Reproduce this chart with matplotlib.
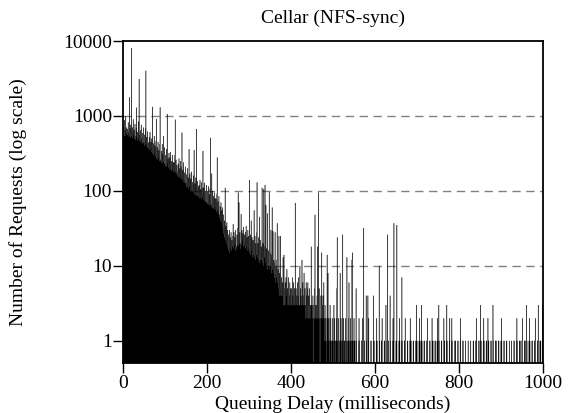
import numpy as np
import matplotlib
matplotlib.use("Agg")
from matplotlib import pyplot as plt

plt.rcParams["font.family"] = ["Liberation Serif", "DejaVu Serif"]

# requests per 1 ms bin of queuing delay
counts_0_249 = [
    560, 720, 600, 880, 540, 650, 990, 580, 700, 620,
    670, 560, 820, 600, 530, 1770, 690, 520, 760, 580,
    8000, 540, 700, 510, 900, 560, 650, 500, 780, 540,
    480, 690, 1290, 520, 610, 470, 840, 500, 3100, 560,
    470, 640, 450, 760, 500, 430, 590, 460, 700, 440,
    400, 560, 420, 690, 4000, 410, 520, 380, 620, 400,
    440, 370, 520, 350, 610, 360, 450, 330, 500, 340,
    1320, 310, 430, 300, 540, 320, 400, 290, 460, 910,
    270, 380, 260, 450, 280, 350, 250, 420, 1300, 260,
    250, 340, 240, 420, 235, 310, 540, 245, 380, 230,
    215, 300, 220, 360, 210, 1060, 230, 270, 205, 320,
    195, 280, 200, 330, 190, 250, 185, 300, 200, 240,
    178, 240, 185, 300, 890, 175, 260, 170, 220, 180,
    160, 230, 155, 270, 150, 200, 160, 250, 145, 210,
    600, 140, 190, 135, 240, 130, 175, 140, 210, 128,
    118, 165, 112, 200, 120, 150, 108, 360, 115, 170,
    100, 145, 104, 180, 98, 130, 102, 160, 96, 350,
    90, 125, 88, 150, 92, 670, 86, 135, 90, 115,
    84, 120, 80, 140, 82, 105, 78, 130, 84, 110,
    340, 76, 110, 74, 128, 72, 100, 76, 120, 70,
    70, 98, 66, 115, 68, 90, 64, 108, 510, 66,
    62, 170, 60, 100, 64, 85, 58, 95, 62, 80,
    56, 78, 52, 90, 280, 55, 72, 50, 85, 48,
    44, 62, 40, 70, 38, 55, 34, 60, 31, 48,
    27, 40, 24, 110, 22, 34, 20, 38, 18, 30,
]
counts_250_499 = [
    17, 26, 16, 30, 15, 24, 17, 28, 16, 22,
    18, 25, 36, 17, 28, 19, 24, 16, 30, 18,
    17, 26, 19, 32, 95, 18, 70, 20, 28, 17,
    20, 49, 19, 30, 21, 27, 18, 33, 20, 26,
    19, 28, 17, 34, 18, 24, 16, 30, 17, 25,
    16, 140, 15, 26, 14, 40, 16, 24, 13, 22,
    14, 22, 55, 13, 25, 12, 20, 14, 28, 130,
    13, 20, 12, 24, 11, 45, 14, 22, 12, 18,
    12, 110, 11, 20, 10, 106, 13, 18, 120, 11,
    65, 10, 17, 9, 50, 11, 16, 10, 96, 9,
    10, 15, 30, 8, 14, 60, 9, 29, 8, 12,
    7, 11, 28, 6, 10, 7, 12, 37, 6, 9,
    5, 25, 4, 8, 5, 25, 4, 7, 4, 6,
    4, 13, 3, 14, 5, 3, 6, 3, 7, 4,
    9, 3, 5, 3, 7, 4, 3, 6, 3, 5,
    3, 5, 3, 7, 4, 3, 6, 3, 5, 3,
    69, 3, 5, 4, 3, 6, 3, 4, 7, 3,
    3, 10, 4, 5, 3, 4, 12, 3, 6, 3,
    4, 8, 3, 5, 2, 3, 6, 4, 2, 5,
    6, 2, 4, 3, 5, 2, 3, 2, 18, 3,
    3, 2, 4, 3, 0, 2, 5, 48, 2, 3,
    3, 2, 4, 18, 2, 95, 2, 5, 2, 0,
    2, 4, 2, 15, 3, 2, 4, 2, 6, 2,
    1, 3, 1, 2, 0, 1, 14, 2, 8, 1,
    2, 1, 0, 3, 2, 1, 1, 0, 2, 1,
]
counts_500_749 = [
    1, 0, 3, 1, 2, 0, 1, 1, 2, 5,
    24, 1, 0, 2, 1, 1, 0, 8, 1, 2,
    1, 0, 1, 26, 1, 2, 0, 1, 1, 0,
    2, 1, 0, 13, 1, 0, 1, 2, 6, 1,
    0, 1, 2, 1, 0, 12, 15, 1, 0, 1,
    2, 1, 1, 0, 0, 5, 1, 0, 0, 0,
    0, 1, 2, 1, 0, 0, 0, 0, 1, 1,
    2, 0, 0, 32, 1, 1, 0, 0, 0, 4,
    1, 0, 0, 4, 1, 2, 0, 0, 0, 0,
    1, 1, 0, 0, 0, 0, 4, 1, 1, 0,
    0, 0, 0, 1, 2, 1, 0, 0, 0, 0,
    10, 1, 0, 0, 0, 1, 1, 2, 0, 0,
    0, 0, 1, 1, 0, 0, 3, 1, 0, 0,
    26, 1, 1, 0, 0, 0, 4, 1, 0, 0,
    0, 0, 1, 2, 1, 37, 0, 0, 0, 0,
    1, 1, 35, 0, 0, 0, 0, 1, 2, 1,
    0, 0, 0, 1, 7, 1, 0, 0, 0, 0,
    1, 1, 2, 0, 0, 0, 0, 1, 1, 0,
    0, 0, 0, 1, 2, 1, 1, 0, 0, 0,
    0, 1, 1, 0, 0, 0, 0, 1, 1, 3,
    1, 0, 0, 0, 0, 1, 2, 1, 0, 0,
    1, 3, 1, 0, 0, 0, 0, 1, 1, 0,
    0, 0, 0, 1, 1, 2, 0, 0, 0, 0,
    1, 1, 0, 0, 0, 0, 2, 1, 1, 0,
    0, 0, 0, 1, 1, 0, 0, 0, 1, 2,
]
counts_750_999 = [
    1, 0, 3, 1, 0, 0, 0, 0, 1, 1,
    0, 0, 0, 0, 2, 1, 1, 0, 0, 0,
    1, 3, 1, 0, 0, 0, 0, 1, 2, 0,
    0, 0, 1, 2, 1, 0, 0, 0, 0, 0,
    1, 1, 1, 0, 0, 0, 0, 1, 1, 0,
    0, 0, 0, 1, 2, 0, 0, 0, 0, 1,
    1, 0, 0, 0, 0, 0, 1, 0, 0, 0,
    0, 0, 1, 0, 0, 0, 0, 0, 1, 0,
    0, 0, 0, 0, 1, 1, 0, 0, 0, 0,
    1, 1, 2, 0, 0, 0, 0, 1, 1, 0,
    0, 3, 1, 1, 0, 0, 0, 0, 1, 2,
    1, 0, 0, 0, 0, 1, 1, 0, 0, 2,
    1, 1, 0, 0, 0, 0, 1, 1, 0, 0,
    0, 3, 1, 0, 0, 0, 0, 1, 1, 1,
    0, 0, 0, 0, 1, 1, 0, 0, 0, 0,
    1, 2, 1, 0, 0, 0, 0, 1, 1, 0,
    0, 0, 0, 1, 1, 0, 0, 0, 0, 0,
    1, 0, 0, 0, 0, 1, 0, 0, 0, 0,
    0, 1, 1, 0, 0, 0, 0, 1, 2, 1,
    0, 0, 0, 0, 1, 1, 1, 0, 0, 0,
    1, 2, 0, 0, 0, 0, 1, 1, 1, 0,
    0, 3, 1, 0, 0, 0, 0, 1, 2, 1,
    0, 0, 0, 0, 1, 1, 0, 0, 0, 0,
    1, 1, 2, 0, 0, 0, 0, 1, 1, 3,
    0, 0, 0, 1, 1, 1, 0, 0, 0, 3,
]

y_ticks = [1, 10, 100, 1000, 10000]
y_tick_labels = ["1", "10", "100", "1000", "10000"]
x_ticks = [0, 200, 400, 600, 800, 1000]
grid_levels = [10, 100, 1000]

counts = np.array(counts_0_249 + counts_250_499 + counts_500_749 + counts_750_999, dtype=float)
edges = np.arange(len(counts) + 1)

fig = plt.figure(figsize=(5.71, 4.13), dpi=100)
ax = fig.add_axes([0.2154, 0.1199, 0.7350, 0.7808])

ax.set_yscale("log")
ax.set_xlim(0, 1000)
ax.set_ylim(0.5, 10000)

for level in grid_levels:
    ax.axhline(level, color="#808080", lw=1.0, ls=(0, (6, 4)), zorder=0.5)

# empty bins go below the visible range
ax.stairs(np.maximum(counts, 0.1), edges, baseline=0.1, fill=True,
          facecolor="black", edgecolor="black", lw=0.2, zorder=2)

ax.set_yticks(y_ticks)
ax.set_yticklabels(y_tick_labels)
ax.yaxis.set_minor_locator(matplotlib.ticker.NullLocator())
ax.set_xticks(x_ticks)
ax.set_xticklabels([str(_) for _ in x_ticks])
ax.tick_params(direction="out", length=7, width=1.0, labelsize=14, pad=1)

for spine in ax.spines.values():
    spine.set_linewidth(1.3)
    spine.set_zorder(3)

ax.set_xlabel("Queuing Delay (milliseconds)", fontsize=14, labelpad=3)
ax.set_ylabel("Number of Requests (log scale)", fontsize=14, labelpad=26)
ax.set_title("Cellar (NFS-sync)", fontsize=14, pad=13)

fig.savefig("out.png", dpi=100)
